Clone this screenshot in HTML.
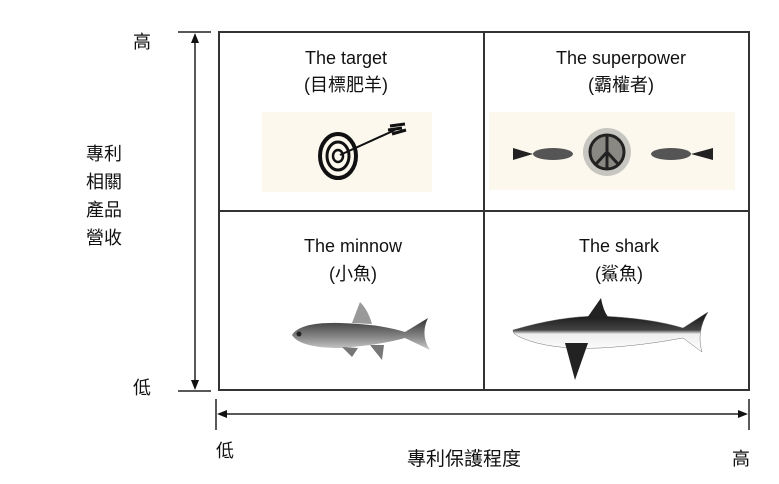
<!DOCTYPE html>
<html><head><meta charset="utf-8"><style>
html,body{margin:0;padding:0;background:#fff;width:779px;height:484px;overflow:hidden}
svg text{font-family:"Liberation Sans","Noto Sans CJK TC",sans-serif;fill:#111}
</style></head><body>
<svg width="779" height="484" viewBox="0 0 779 484" xmlns="http://www.w3.org/2000/svg">
<defs>
<linearGradient id="fish" x1="0" y1="0" x2="0" y2="1"><stop offset="0" stop-color="#333"/><stop offset="0.6" stop-color="#888"/><stop offset="1" stop-color="#ccc"/></linearGradient>
<linearGradient id="shark" x1="0" y1="0" x2="0" y2="1"><stop offset="0" stop-color="#111"/><stop offset="0.45" stop-color="#444"/><stop offset="0.55" stop-color="#eee"/><stop offset="1" stop-color="#fff"/></linearGradient>
</defs>
<!-- grid -->
<g stroke="#333" stroke-width="2" fill="none">
<rect x="219" y="32" width="530" height="358"/>
<line x1="484" y1="32" x2="484" y2="390"/>
<line x1="219" y1="211" x2="749" y2="211"/>
</g>
<!-- vertical axis -->
<g stroke="#222" stroke-width="1.5">
<line x1="178" y1="32" x2="211" y2="32"/>
<line x1="178" y1="391" x2="211" y2="391"/>
<line x1="195" y1="36" x2="195" y2="387"/>
</g>
<polygon points="195,33 191,43 199,43" fill="#111"/>
<polygon points="195,390 191,380 199,380" fill="#111"/>
<!-- horizontal axis -->
<g stroke="#222" stroke-width="1.5">
<line x1="216" y1="399" x2="216" y2="430"/>
<line x1="749" y1="399" x2="749" y2="430"/>
<line x1="219" y1="414" x2="746" y2="414"/>
</g>
<polygon points="217,414 227,410 227,418" fill="#111"/>
<polygon points="748,414 738,410 738,418" fill="#111"/>
<!-- axis labels -->
<text x="142" y="48" font-size="18" text-anchor="middle">高</text>
<text x="142" y="394" font-size="18" text-anchor="middle">低</text>
<text x="104" y="160" font-size="18" text-anchor="middle">專利</text>
<text x="104" y="188" font-size="18" text-anchor="middle">相關</text>
<text x="104" y="216" font-size="18" text-anchor="middle">產品</text>
<text x="104" y="244" font-size="18" text-anchor="middle">營收</text>
<text x="225" y="457" font-size="18" text-anchor="middle">低</text>
<text x="741" y="465" font-size="18" text-anchor="middle">高</text>
<text x="464" y="465" font-size="19" text-anchor="middle">專利保護程度</text>
<!-- quadrant titles -->
<g font-size="18" text-anchor="middle">
<text x="346" y="64">The target</text>
<text x="346" y="91">(目標肥羊)</text>
<text x="621" y="64">The superpower</text>
<text x="621" y="91">(霸權者)</text>
<text x="353" y="252">The minnow</text>
<text x="353" y="280">(小魚)</text>
<text x="619" y="252">The shark</text>
<text x="619" y="280">(鯊魚)</text>
</g>
<!-- target image -->
<rect x="262" y="112" width="170" height="80" fill="#fcf8ee"/>
<g fill="none" stroke="#111">
<ellipse cx="338" cy="156" rx="18" ry="22" stroke-width="4"/>
<ellipse cx="338" cy="156" rx="11" ry="14" stroke-width="3"/>
<ellipse cx="338" cy="156" rx="5" ry="6" stroke-width="2.5"/>
<line x1="340" y1="155" x2="395" y2="130" stroke-width="2"/>
<path d="M390 126 L405 124 M392 134 L406 130 M388 130 L402 128" stroke-width="3"/>
</g>
<!-- superpower image -->
<rect x="489" y="112" width="246" height="78" fill="#fcf8ee"/>
<circle cx="607" cy="152" r="24" fill="#c8c6c0"/>
<circle cx="607" cy="152" r="17" fill="#8a8883" stroke="#222" stroke-width="3"/>
<path d="M607 135 V169 M607 152 L596 164 M607 152 L618 164" stroke="#222" stroke-width="3" fill="none"/>
<ellipse cx="553" cy="154" rx="20" ry="6" fill="#555"/>
<path d="M513 148 L533 154 L513 160 Z" fill="#222"/>
<ellipse cx="671" cy="154" rx="20" ry="6" fill="#555"/>
<path d="M713 148 L691 154 L713 160 Z" fill="#222"/>
<!-- minnow -->
<path d="M292 335 Q300 322 340 323 Q380 324 405 332 L428 318 Q420 335 430 350 L405 338 Q380 345 340 348 Q300 348 292 335 Z" fill="url(#fish)"/>
<path d="M352 323 L360 302 Q368 310 372 324 Z" fill="#999"/>
<path d="M342 347 L352 357 L358 348 Z M370 345 L382 360 L384 345 Z" fill="#777"/>
<circle cx="299" cy="334" r="2.5" fill="#222"/>
<!-- shark -->
<path d="M513 330 Q560 316 600 316 Q650 318 683 328 L708 312 Q696 332 702 352 L683 338 Q640 346 600 348 Q550 350 522 338 Q512 334 513 330 Z" fill="url(#shark)" stroke="#777" stroke-width="0.5"/>
<path d="M587 318 L601 298 Q603 310 608 317 Z" fill="#222"/>
<path d="M565 343 L575 380 L588 343 Z" fill="#222"/>
</svg>
</body></html>
